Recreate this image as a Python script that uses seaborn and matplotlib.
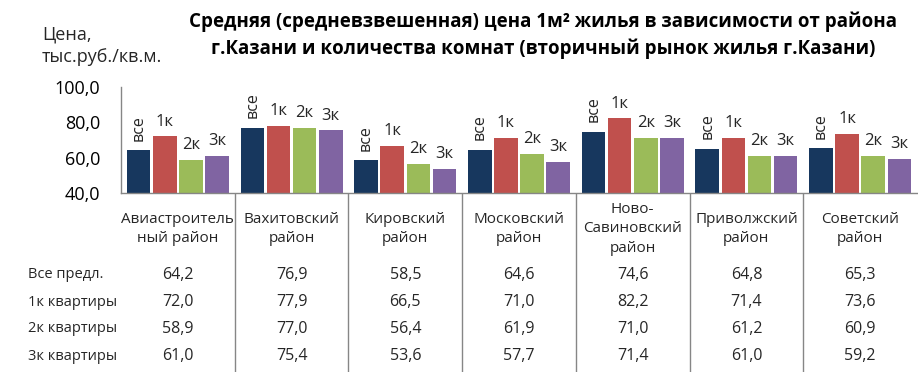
import seaborn as sns
import matplotlib.pyplot as plt
import matplotlib.transforms as mtransforms
from matplotlib.ticker import FuncFormatter
import pandas as pd

# data
districts = ["Авиастроитель\nный район", "Вахитовский\nрайон", "Кировский\nрайон",
             "Московский\nрайон", "Ново-\nСавиновский\nрайон", "Приволжский\nрайон",
             "Советский\nрайон"]
all_offers = [64.2, 76.9, 58.5, 64.6, 74.6, 64.8, 65.3]
one_room = [72.0, 77.9, 66.5, 71.0, 82.2, 71.4, 73.6]
two_room = [58.9, 77.0, 56.4, 61.9, 71.0, 61.2, 60.9]
three_room = [61.0, 75.4, 53.6, 57.7, 71.4, 61.0, 59.2]
row_labels = ["Все предл.", "1к квартиры", "2к квартиры", "3к квартиры"]
bar_labels = ["все", "1к", "2к", "3к"]
colors = ["#17375E", "#C0504D", "#9BBB59", "#8064A2"]

series = [all_offers, one_room, two_room, three_room]
rows = []
for lab, vals in zip(row_labels, series):
    for d, v in zip(districts, vals):
        rows.append({"district": d, "type": lab, "value": v})
df = pd.DataFrame(rows)

sns.set_style("white")
plt.rcParams['font.family'] = ['Open Sans', 'DejaVu Sans']

fig = plt.figure(figsize=(9.18, 3.72), dpi=100)
ax = fig.add_axes([121/918, 1-193/372, 796/918, 106/372])

sns.barplot(data=df, x="district", y="value", hue="type", palette=colors,
            order=districts, hue_order=row_labels, width=0.92, gap=0.1,
            saturation=1, errorbar=None, legend=False, linewidth=0, ax=ax)

ax.set_ylim(40, 100)
ax.set_xlim(-0.5, len(districts) - 0.5)
ax.set_yticks([40, 60, 80, 100])
ax.yaxis.set_major_formatter(FuncFormatter(lambda v, p: f"{v:.1f}".replace(".", ",")))
ax.tick_params(axis='y', labelsize=13, length=0, pad=15, colors="black")
ax.set_xticks([])
ax.set_xlabel("")
ax.set_ylabel("")
for s in ["top", "right"]:
    ax.spines[s].set_visible(False)
for s in ["left", "bottom"]:
    ax.spines[s].set_color("#868686")
    ax.spines[s].set_linewidth(1)

# labels above bars
for cont, lab in zip(ax.containers, bar_labels):
    for bar in cont:
        x = bar.get_x() + bar.get_width() / 2
        h = bar.get_height()
        if lab == "все":
            ax.annotate(lab, (x, h), xytext=(0, 7), textcoords="offset points",
                        ha="center", va="bottom", rotation=90, fontsize=11.5)
        else:
            ax.annotate(lab, (x, h), xytext=(0, 5), textcoords="offset points",
                        ha="center", va="bottom", fontsize=12)

# data table below the chart
trans = mtransforms.blended_transform_factory(ax.transData, fig.transFigure)
ax.vlines([i + 0.5 for i in range(len(districts) - 1)], -179/106, 0,
          transform=ax.get_xaxis_transform(), color="#868686", lw=1, clip_on=False)
for i, d in enumerate(districts):
    ax.text(i, 1 - 229/372, d, transform=trans, ha="center", va="center",
            fontsize=11, linespacing=1.4)
row_y = [275, 302, 329, 356]
for lab, vals, yy in zip(row_labels, series, row_y):
    fig.text(28/918, 1 - yy/372, lab, ha="left", va="center", fontsize=10.5)
    for i, v in enumerate(vals):
        ax.text(i, 1 - yy/372, f"{v:.1f}".replace(".", ","), transform=trans,
                ha="center", va="center", fontsize=11.5)

fig.text(543/918, 1 - 35/372,
         "Средняя (средневзвешенная) цена 1м² жилья в зависимости от района\n"
         "г.Казани и количества комнат (вторичный рынок жилья г.Казани)",
         ha="center", va="center", fontsize=13.5, fontweight="bold", linespacing=1.4,
         color="black")
fig.text(42/918, 1 - 46/372, "Цена,\nтыс.руб./кв.м.", ha="left", va="center",
         fontsize=13, linespacing=1.35)

fig.savefig("out.png", dpi=100)
